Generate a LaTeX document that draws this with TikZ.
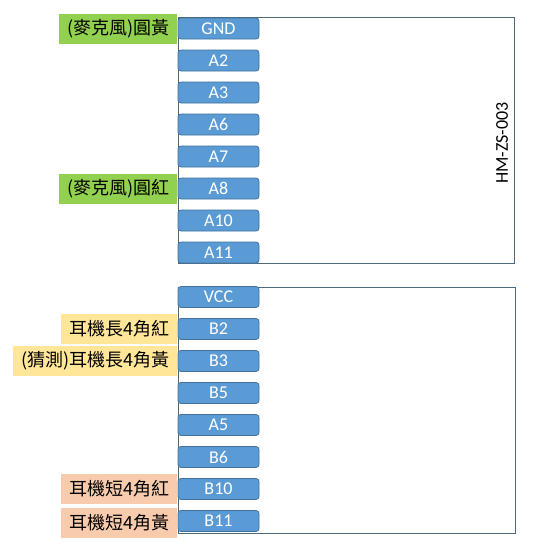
\documentclass[tikz,border=0pt]{standalone}
\usepackage{fontspec}
\setmainfont{Carlito}
\newfontfamily\cjk{Noto Sans CJK TC}
\usetikzlibrary{arrows}

\definecolor{pinblue}{HTML}{5B9BD5}
\definecolor{pinedge}{HTML}{41719C}
\definecolor{micgreen}{HTML}{92D050}
\definecolor{longyellow}{HTML}{FFE699}
\definecolor{shortsalmon}{HTML}{F8CBAD}
\definecolor{chipedge}{HTML}{50697A}

\begin{document}
\begin{tikzpicture}[x=1pt,y=-1pt,node distance=32pt,
  pin node/.style={rectangle,rounded corners=3pt,fill=pinblue,draw=pinedge,line width=0.8pt,
    text=white,inner sep=0pt,minimum width=81pt,minimum height=21pt,font=\fontsize{18}{18}\selectfont},
  chip node/.style={rectangle,draw=chipedge,line width=1pt,inner sep=0pt},
  mic node/.style={rectangle,fill=micgreen,anchor=east,inner xsep=8pt,minimum height=30pt,font=\cjk\fontsize{18}{18}\selectfont},
  long node/.style={rectangle,fill=longyellow,anchor=east,inner xsep=8pt,minimum height=30pt,font=\cjk\fontsize{18}{18}\selectfont},
  short node/.style={rectangle,fill=shortsalmon,anchor=east,inner xsep=8pt,minimum height=30pt,font=\cjk\fontsize{18}{18}\selectfont}]
  \useasboundingbox (0,0) rectangle (549,549);

  % chip outlines
  \node[chip node,minimum width=336pt,minimum height=246pt] (top) at (346,140) {};
  \node[chip node,minimum width=337pt,minimum height=246pt] (bot) at (346.5,410) {};
  \node[rotate=90,font=\fontsize{18}{18}\selectfont] (name) at (502,143) {HM-ZS-003};

  % upper header
  \node[pin node] (gnd) at (218.5,28.5) {GND};
  \node[pin node] (a2)  [below of=gnd] {A2};
  \node[pin node] (a3)  [below of=a2]  {A3};
  \node[pin node] (a6)  [below of=a3]  {A6};
  \node[pin node] (a7)  [below of=a6]  {A7};
  \node[pin node] (a8)  [below of=a7]  {A8};
  \node[pin node] (a10) [below of=a8]  {A10};
  \node[pin node] (a11) [below of=a10] {A11};

  % lower header
  \node[pin node] (vcc) at (218.5,297) {VCC};
  \node[pin node] (b2)  [below of=vcc] {B2};
  \node[pin node] (b3)  [below of=b2]  {B3};
  \node[pin node] (b5)  [below of=b3]  {B5};
  \node[pin node] (a5)  [below of=b5]  {A5};
  \node[pin node] (b6)  [below of=a5]  {B6};
  \node[pin node] (b10) [below of=b6]  {B10};
  \node[pin node] (b11) [below of=b10] {B11};

  % wire labels
  \node[mic node]   (mic1) at (gnd.west) {(麥克風)圓黃};
  \node[mic node]   (mic2) at (a8.west)  {(麥克風)圓紅};
  \node[long node]  (ear1) at (b2.west)  {耳機長4角紅};
  \node[long node]  (ear2) at (b3.west)  {(猜測)耳機長4角黃};
  \node[short node] (ear3) at (b10.west) {耳機短4角紅};
  \node[short node] (ear4) at ([yshift=-1.5pt]b11.west) {耳機短4角黃};
\end{tikzpicture}
\end{document}
